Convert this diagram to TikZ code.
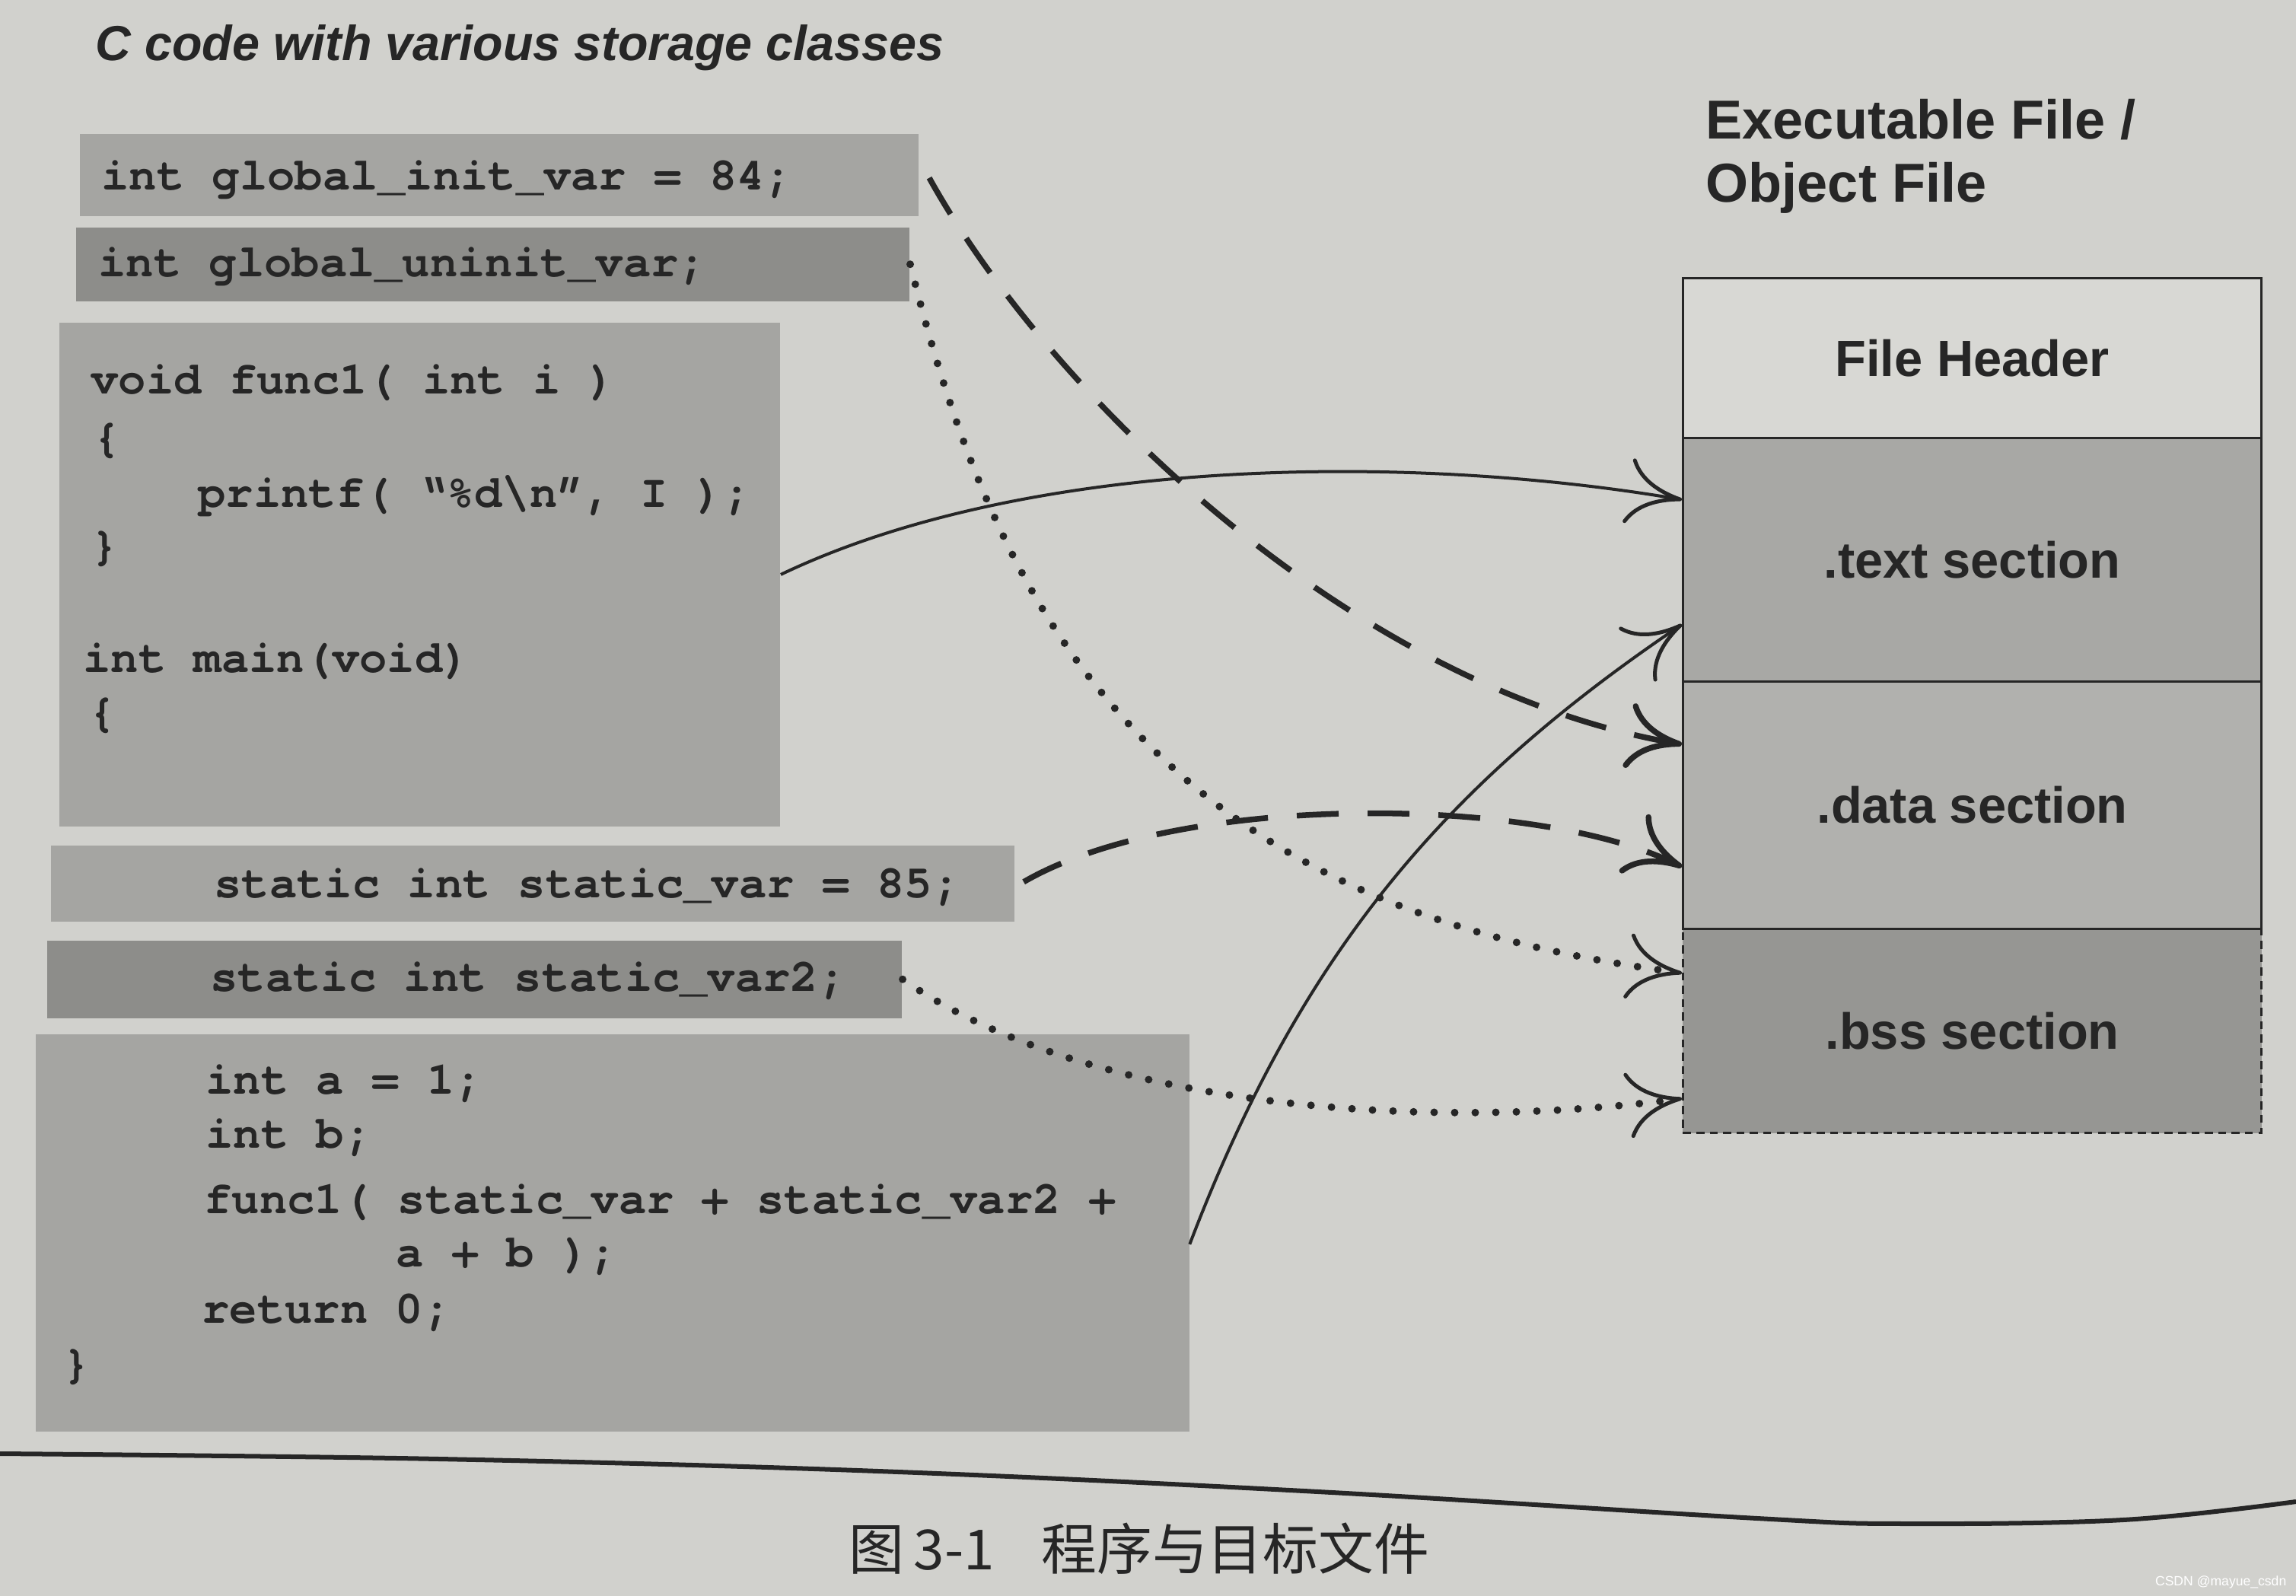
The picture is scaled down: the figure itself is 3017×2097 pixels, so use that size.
\documentclass[tikz,border=0pt]{standalone}
\usepackage{fontspec}
\setmainfont{Liberation Sans}
\newfontfamily\codefont{TeX Gyre Cursor}
\newfontfamily\cjkfont{Noto Sans CJK SC}
\usetikzlibrary{arrows.meta,calc}
\definecolor{pagebg}{RGB}{209,209,205}
\definecolor{boxlight}{RGB}{165,165,162}
\definecolor{boxdark}{RGB}{141,141,138}
\definecolor{secwhite}{RGB}{216,216,212}
\definecolor{sectext}{RGB}{168,168,165}
\definecolor{secdata}{RGB}{177,177,174}
\definecolor{secbss}{RGB}{150,150,147}
\definecolor{ink}{RGB}{38,38,38}
\begin{document}
\begin{tikzpicture}[x=0.01cm,y=-0.01cm,
  codebox/.style={draw=none,inner sep=0pt,anchor=north west},
  lightbox/.style={codebox,fill=boxlight},
  darkbox/.style={codebox,fill=boxdark},
  code/.style={font=\fontsize{17.2}{21}\selectfont\codefont\bfseries,anchor=west,inner sep=0pt,text=ink},
  sect/.style={draw=ink,line width=0.8pt,minimum width=7.6cm,inner sep=0pt,anchor=north west,
    font=\fontsize{19}{22}\selectfont\bfseries,text=ink},
  headtext/.style={font=\fontsize{20.5}{25}\selectfont\bfseries,anchor=base west,inner sep=0pt,text=ink},
  tip/.style={-{To[length=0.72cm,width=0.86cm]}},
  solidlink/.style={-{To[length=0.72cm,width=0.86cm,line width=0.05cm]},draw=ink,line width=0.04cm},
  dashlink/.style={tip,draw=ink,line width=0.075cm,dash pattern=on 0.55cm off 0.38cm},
  dotlink/.style={-{To[length=0.72cm,width=0.86cm,line width=0.05cm]},draw=ink,line width=0.1cm,
    line cap=round,dash pattern=on 0pt off 0.27cm}
]
\useasboundingbox (0,0) rectangle (3017,2097);
\fill[pagebg] (0,0) rectangle (3017,2097);

% title
\node[font=\fontsize{18.4}{22}\selectfont\bfseries\itshape,anchor=base west,inner sep=0pt,text=ink]
  (title) at (125,80) {C code with various storage classes};

% code boxes
\node[lightbox,minimum width=11.02cm,minimum height=1.08cm] (b1) at (104,175) {};
\node[darkbox,minimum width=10.95cm,minimum height=0.97cm] (b2) at (99,298) {};
\node[lightbox,minimum width=9.47cm,minimum height=6.62cm] (b3) at (77,423) {};
\node[lightbox,minimum width=12.66cm,minimum height=1.00cm] (b4) at (66,1110) {};
\node[darkbox,minimum width=11.23cm,minimum height=1.02cm] (b5) at (61,1235) {};
\node[lightbox,minimum width=15.15cm,minimum height=5.22cm] (b6) at (46,1358) {};

% code text
\node[code] (c1) at (133,236) {int global\_init\_var = 84;};
\node[code] (c2) at (129,350) {int global\_uninit\_var;};
\node[code] (c3a) at (119,503) {void func1( int i )};
\node[code] (c3b) at (122,579) {\{};
\node[code] (c3c) at (260,652) {printf( “\%d\textbackslash n”, I );};
\node[code] (c3d) at (119,721) {\}};
\node[code] (c3e) at (109,869) {int main(void)};
\node[code] (c3f) at (116,940) {\{};
\node[code] (c4) at (281,1166) {static int static\_var = 85;};
\node[code] (c5) at (276,1289) {static int static\_var2;};
\node[code] (c6a) at (270,1424) {int a = 1;};
\node[code] (c6b) at (270,1495) {int b;};
\node[code] (c6c) at (268,1580) {func1( static\_var + static\_var2 +};
\node[code] (c6d) at (520,1651) {a + b );};
\node[code] (c6e) at (265,1725) {return 0;};
\node[code] (c6f) at (82,1796) {\}};

% executable file
\node[headtext] (h1) at (2241,183) {Executable File /};
\node[headtext] (h2) at (2241,266) {Object File};

\node[sect,fill=secbss,minimum height=2.68cm,dash pattern=on 3pt off 2pt] (bss) at (2210,1219) {.bss section};
\node[sect,fill=secdata,minimum height=3.25cm] (data) at (2210,894) {.data section};
\node[sect,fill=sectext,minimum height=3.20cm] (text) at (2210,574) {.text section};
\node[sect,fill=secwhite,minimum height=2.10cm] (fh) at (2210,364) {File Header};

% connectors
\draw[solidlink] (b3.east) .. controls (1350,600) and (1850,595) .. ($(text.west)+(0,-79)$);
\draw[dashlink] ($(b1.east)+(13,4)$) .. controls (1380,520) and (1780,905) .. ($(data.west)+(0,-80)$);
\draw[dotlink] (b2.east) .. controls (1244,539) and (1314,748) .. (1446,908)
  .. controls (1650,1160) and (1931,1241) .. ($(bss.west)+(0,-76)$);
\draw[solidlink] ($(b6.east)+(0,15)$) .. controls (1710,1250) and (1900,1030) .. ($(text.west)+(0,85)$);
\draw[dashlink] ($(b4.east)+(11,-2)$) .. controls (1550,1040) and (2020,1045) .. ($(data.west)+(0,81)$);
\draw[dotlink] (b5.east) .. controls (1420,1450) and (1850,1490) .. ($(bss.west)+(0,89)$);

% bottom rule and caption
\draw[draw=ink,line width=0.06cm] plot[smooth,tension=0.6] coordinates
  {(0,1910) (577,1917) (1154,1933) (1732,1960) (2309,1995) (2501,2002) (2790,1997) (3017,1973)};
\node[font=\fontsize{20.7}{24}\selectfont\cjkfont,text=ink,inner sep=0pt] (cap) at (1497,2035)
  {图\,3-1\hspace{0.85em}程序与目标文件};
\node[font=\fontsize{5}{6}\selectfont,text=white,anchor=east,inner sep=0pt] (wm) at (3005,2079)
  {CSDN @mayue\_csdn};
\end{tikzpicture}
\end{document}
